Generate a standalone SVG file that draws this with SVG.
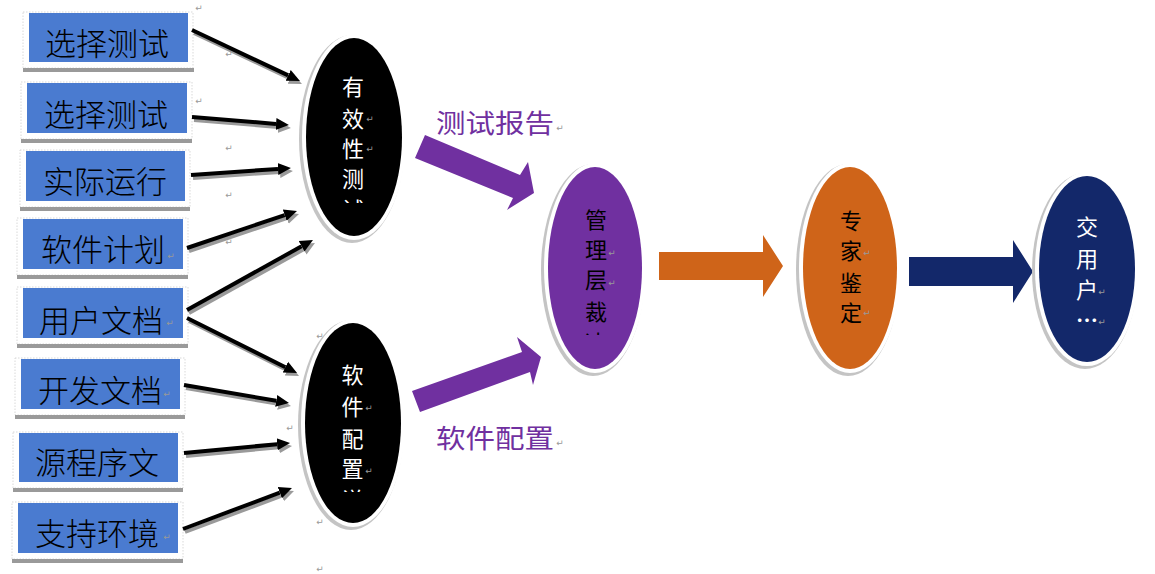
<svg xmlns="http://www.w3.org/2000/svg" width="1155" height="574" viewBox="0 0 1155 574">
<style>
.frame{fill:#fff;stroke:#cfcfcf;stroke-width:0.8;stroke-dasharray:1.5 1.5}
.bar{fill:#9a9a9a}
.box{fill:#4a7bd0}
.bt{font-family:"Noto Sans CJK SC","Noto Sans",sans-serif;font-size:31px;font-weight:300;fill:#000;text-anchor:middle;dominant-baseline:central}
.et{font-family:"Noto Sans CJK SC","Noto Sans",sans-serif;font-size:22px;text-anchor:middle;dominant-baseline:central}
.w{fill:#fff}
.k{fill:#000}
.lbl{font-family:"Noto Sans CJK SC","Noto Sans",sans-serif;font-size:26px;fill:#7030a0;text-anchor:middle;dominant-baseline:central}
.rm{font-family:"DejaVu Sans",sans-serif;font-size:9px;fill:#999;text-anchor:middle;dominant-baseline:central}
.ln{stroke:#000;stroke-width:4;fill:none;marker-end:url(#ah)}
.lns{stroke:#9a9a9a;stroke-width:4;fill:none;marker-end:url(#ahs)}
.halo{fill:#c4c4c4}
.ring{fill:#fff}
</style>
<defs>
<marker id="ah" markerUnits="userSpaceOnUse" markerWidth="16" markerHeight="16" refX="0" refY="0" viewBox="0 -8 16 16" orient="auto"><path d="M0,-6 L13,0 L0,6 z" fill="#000"/></marker>
<marker id="ahs" markerUnits="userSpaceOnUse" markerWidth="16" markerHeight="16" refX="0" refY="0" viewBox="0 -8 16 16" orient="auto"><path d="M0,-6 L13,0 L0,6 z" fill="#9a9a9a"/></marker>
<clipPath id="c1"><rect x="330" y="190" width="50" height="13"/></clipPath>
<clipPath id="c2"><rect x="330" y="480" width="50" height="12"/></clipPath>
<clipPath id="c3"><rect x="570" y="322" width="50" height="13"/></clipPath>
</defs>

<g id="box1"><rect class="frame" x="23" y="12" width="170" height="56"/><rect class="bar" x="23" y="68" width="171" height="4"/><rect class="box" x="29" y="13" width="159" height="49"/><text class="bt" x="107" y="41">选择测试</text></g>
<g id="box2"><rect class="frame" x="21" y="82" width="171" height="57"/><rect class="bar" x="21" y="139" width="171" height="4"/><rect class="box" x="27" y="83" width="160" height="50"/><text class="bt" x="106" y="112">选择测试</text></g>
<g id="box3"><rect class="frame" x="20" y="150" width="170" height="57"/><rect class="bar" x="20" y="207" width="170" height="4"/><rect class="box" x="26" y="151" width="159" height="50"/><text class="bt" x="105" y="179">实际运行</text></g>
<g id="box4"><rect class="frame" x="17" y="218" width="171" height="57"/><rect class="bar" x="17" y="275" width="171" height="4"/><rect class="box" x="23" y="219" width="160" height="50"/><text class="bt" x="103" y="247">软件计划</text><text class="rm" x="171" y="256">↵</text></g>
<g id="box5"><rect class="frame" x="17" y="287" width="171" height="57"/><rect class="bar" x="17" y="344" width="171" height="4"/><rect class="box" x="23" y="288" width="160" height="50"/><text class="bt" x="101" y="318">用户文档</text><text class="rm" x="170" y="323">↵</text></g>
<g id="box6"><rect class="frame" x="15" y="358" width="170" height="57"/><rect class="bar" x="15" y="415" width="170" height="4"/><rect class="box" x="21" y="359" width="159" height="50"/><text class="bt" x="100" y="388">开发文档</text><text class="rm" x="167" y="394">↵</text></g>
<g id="box7"><rect class="frame" x="13" y="432" width="170" height="56"/><rect class="bar" x="13" y="488" width="170" height="4"/><rect class="box" x="19" y="433" width="159" height="49"/><text class="bt" x="97" y="460">源程序文</text></g>
<g id="box8"><rect class="frame" x="12" y="502" width="171" height="57"/><rect class="bar" x="12" y="559" width="171" height="4"/><rect class="box" x="18" y="503" width="160" height="50"/><text class="bt" x="97" y="531">支持环境</text><text class="rm" x="167" y="537">↵</text></g>

<g id="connectors">
<g transform="translate(2,3)">
<line class="lns" x1="192" y1="30" x2="288.2" y2="75.4"/>
<line class="lns" x1="192" y1="117" x2="276" y2="123.9"/>
<line class="lns" x1="191" y1="175" x2="278" y2="168.9"/>
<line class="lns" x1="187" y1="248" x2="284.7" y2="215.1"/>
<line class="lns" x1="187" y1="310" x2="301.6" y2="246.3"/>
<line class="lns" x1="187" y1="318" x2="285.4" y2="367.2"/>
<line class="lns" x1="184" y1="385" x2="276.2" y2="400.8"/>
<line class="lns" x1="184" y1="453" x2="277.1" y2="444.2"/>
<line class="lns" x1="183" y1="529" x2="279.8" y2="492.6"/>
</g>
<line class="ln" x1="192" y1="30" x2="288.2" y2="75.4"/>
<line class="ln" x1="192" y1="117" x2="276" y2="123.9"/>
<line class="ln" x1="191" y1="175" x2="278" y2="168.9"/>
<line class="ln" x1="187" y1="248" x2="284.7" y2="215.1"/>
<line class="ln" x1="187" y1="310" x2="301.6" y2="246.3"/>
<line class="ln" x1="187" y1="318" x2="285.4" y2="367.2"/>
<line class="ln" x1="184" y1="385" x2="276.2" y2="400.8"/>
<line class="ln" x1="184" y1="453" x2="277.1" y2="444.2"/>
<line class="ln" x1="183" y1="529" x2="279.8" y2="492.6"/>
<polygon fill="#7030a0" points="425,135 520,175 528,162 534,193 507,210 513,198 415,158"/>
<polygon fill="#7030a0" points="412,391 522,352 517,337 541,357 533,385 530,372 420,412"/>
<polygon fill="#cf6419" points="659,252 763,252 763,235 783,266 763,297 763,280 659,280"/>
<polygon fill="#13286a" points="909,257 1013,257 1013,240 1033,271.5 1013,303 1013,286 909,286"/>
<text class="lbl" x="495" y="121.5" textLength="118" lengthAdjust="spacingAndGlyphs">测试报告</text><text class="rm" x="560" y="128">↵</text>
<text class="lbl" x="495" y="436.5" textLength="118" lengthAdjust="spacingAndGlyphs">软件配置</text><text class="rm" x="560" y="443">↵</text>
</g>

<g id="validity">
<ellipse class="halo" cx="352" cy="139" rx="53" ry="104"/><ellipse class="ring" cx="354" cy="137" rx="52" ry="103"/>
<ellipse cx="354" cy="137" rx="48" ry="99" fill="#000"/>
<text class="et w" x="353" y="85">有</text><text class="et w" x="353" y="117">效</text><text class="et w" x="353" y="147">性</text><text class="et w" x="353" y="177">测</text>
<text class="et w" x="353" y="208" clip-path="url(#c1)">试</text>
<text class="rm" x="370" y="119">↵</text><text class="rm" x="370" y="149">↵</text>
</g>
<g id="config">
<ellipse class="halo" cx="351" cy="425" rx="53" ry="105"/><ellipse class="ring" cx="353" cy="423" rx="52" ry="104"/>
<ellipse cx="353" cy="423" rx="48" ry="100" fill="#000"/>
<text class="et w" x="352.5" y="373">软</text><text class="et w" x="352.5" y="405">件</text><text class="et w" x="352.5" y="437">配</text><text class="et w" x="352.5" y="467">置</text>
<text class="et w" x="352.5" y="498" clip-path="url(#c2)">说</text>
<text class="rm" x="369" y="408">↵</text><text class="rm" x="369" y="471">↵</text>
</g>
<g id="management">
<ellipse class="halo" cx="593" cy="270" rx="52" ry="106"/><ellipse class="ring" cx="595" cy="268" rx="51" ry="105"/>
<ellipse cx="595" cy="268" rx="47" ry="101" fill="#7030a0"/>
<text class="et k" x="596" y="217.5">管</text><text class="et k" x="596" y="248">理</text><text class="et k" x="596" y="278">层</text><text class="et k" x="596" y="310">裁</text>
<text class="et k" x="596" y="341" clip-path="url(#c3)">决</text>
<text class="rm" x="612" y="253">↵</text><text class="rm" x="612" y="283">↵</text>
</g>
<g id="expert">
<ellipse class="halo" cx="848" cy="270" rx="52" ry="106"/><ellipse class="ring" cx="850" cy="268" rx="51" ry="105"/>
<ellipse cx="850" cy="268" rx="47" ry="101" fill="#cf6419"/>
<text class="et k" x="851" y="218.5">专</text><text class="et k" x="851" y="249">家</text><text class="et k" x="851" y="281">鉴</text><text class="et k" x="851" y="311">定</text>
<text class="rm" x="867" y="253">↵</text><text class="rm" x="867" y="313">↵</text>
</g>
<g id="user">
<ellipse class="halo" cx="1085" cy="271" rx="53" ry="98"/><ellipse class="ring" cx="1087" cy="269" rx="52" ry="97"/>
<ellipse cx="1087" cy="269" rx="48" ry="93" fill="#13286a"/>
<text class="et w" x="1087" y="225">交</text><text class="et w" x="1087" y="257">用</text><text class="et w" x="1087" y="287.5">户</text>
<text class="et w" x="1087" y="318" font-size="17" font-weight="bold">…</text>
<text class="rm" x="1102" y="292">↵</text><text class="rm" x="1102" y="322">↵</text>
</g>

<g id="marks">
<text class="rm" x="199" y="8">↵</text><text class="rm" x="229" y="54">↵</text><text class="rm" x="199" y="101">↵</text><text class="rm" x="229" y="148">↵</text><text class="rm" x="229" y="195">↵</text><text class="rm" x="229" y="242">↵</text>
<text class="rm" x="320" y="336">↵</text><text class="rm" x="290" y="428">↵</text><text class="rm" x="320" y="522">↵</text><text class="rm" x="320" y="569">↵</text>
</g>
</svg>
